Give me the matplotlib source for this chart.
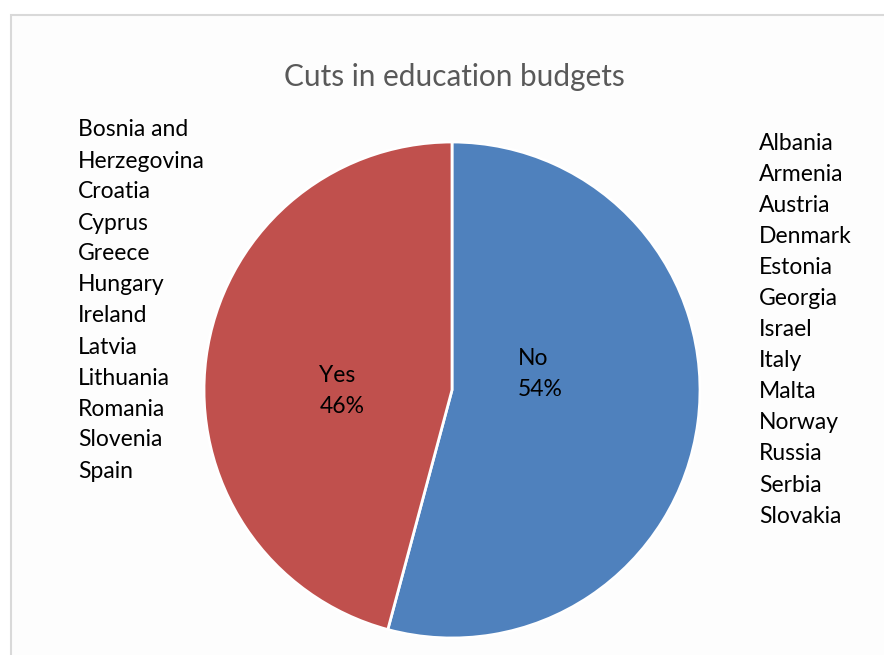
import matplotlib.pyplot as plt
from matplotlib.patches import Rectangle

plt.rcParams['font.family'] = ['Lato', 'DejaVu Sans']

W, H = 884, 655

title = "Cuts in education budgets"
categories = ["No", "Yes"]
counts = [13, 11]
colors = ["#4F81BD", "#C0504D"]
yes_countries = ["Bosnia and", "Herzegovina", "Croatia", "Cyprus", "Greece", "Hungary",
                 "Ireland", "Latvia", "Lithuania", "Romania", "Slovenia", "Spain"]
no_countries = ["Albania", "Armenia", "Austria", "Denmark", "Estonia", "Georgia", "Israel",
                "Italy", "Malta", "Norway", "Russia", "Serbia", "Slovakia"]


def px(x, y):
    # pixel coords (origin top-left) -> figure fraction
    return x / W, 1 - y / H


fig = plt.figure(figsize=(W / 100, H / 100), dpi=100)
fig.patch.set_facecolor("white")

# chart area border (only top/left visible in the reference)
fig.patches.append(Rectangle(px(11, 660), (W + 10) / W, (660 - 15) / H,
                             transform=fig.transFigure, facecolor="#FDFDFD",
                             edgecolor="#D9D9D9", linewidth=1.5, zorder=-5))

# pie
cx, cy, r = 452, 390, 248
ax = fig.add_axes([(cx - r) / W, (H - cy - r) / H, 2 * r / W, 2 * r / H])
ax.pie(counts, colors=colors, startangle=90, counterclock=False, radius=1,
       wedgeprops=dict(edgecolor="white", linewidth=2))
ax.set_xlim(-1, 1)
ax.set_ylim(-1, 1)
ax.set_aspect("equal")
ax.axis("off")

fs = 16.5
total = sum(counts)
pcts = [round(100 * c / total) for c in counts]
ax.text(0.265, 0.065, f"{categories[0]}\n{pcts[0]}%", ha="left", va="center",
        fontsize=fs, linespacing=1.6)
ax.text(-0.535, -0.005, f"{categories[1]}\n{pcts[1]}%", ha="left", va="center",
        fontsize=fs, linespacing=1.6)

fig.text(*px(454, 77), title, ha="center", va="center", fontsize=21.4, color="#595959")

for i, name in enumerate(yes_countries):
    fig.text(*px(78, 130 + 31.0 * i), name, ha="left", va="center", fontsize=fs)
for i, name in enumerate(no_countries):
    fig.text(*px(759, 143 + 31.1 * i), name, ha="left", va="center", fontsize=fs)

fig.savefig("out.png", dpi=100)
